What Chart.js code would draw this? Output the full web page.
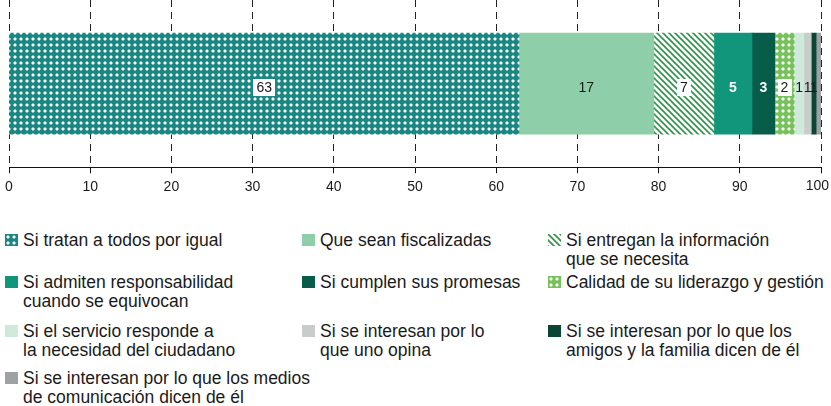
<!DOCTYPE html>
<html>
<head>
<meta charset="utf-8">
<script src="https://cdn.jsdelivr.net/npm/chart.js@4"></script>
<style>
  body { margin: 0; background: #fff; font-family: "Liberation Sans", Arial, sans-serif; }
  #wrap { position: relative; width: 831px; height: 406px; overflow: hidden; }
  #chartBox { position: absolute; left: 0; top: 0; width: 831px; height: 202px; }
  .item { position: absolute; display: flex; align-items: flex-start; font-size: 17.5px; line-height: 18.5px; color: #1a1a1a; white-space: pre; }
  .item canvas { flex: none; width: 13px; height: 12px; margin-top: 3px; margin-right: 5px; }
</style>
</head>
<body>
<div id="wrap">
  <div id="chartBox"><canvas id="barChart"></canvas></div>
  <div id="legend"></div>
</div>
<script>
// data
const category = ['Total'];
const seriesNames = [
  'Si tratan a todos por igual',
  'Que sean fiscalizadas',
  'Si entregan la información\nque se necesita',
  'Si admiten responsabilidad\ncuando se equivocan',
  'Si cumplen sus promesas',
  'Calidad de su liderazgo y gestión',
  'Si el servicio responde a\nla necesidad del ciudadano',
  'Si se interesan por lo\nque uno opina',
  'Si se interesan por lo que los\namigos y la familia dicen de él',
  'Si se interesan por lo que los medios\nde comunicación dicen de él'
];
const seriesValues = [62.8, 16.6, 7.4, 4.7, 2.8, 2.4, 1.2, 0.9, 0.6, 0.6];
const valueLabels = ['63', '17', '7', '5', '3', '2', '1', '1', '1', ''];
const xTicks = [0, 10, 20, 30, 40, 50, 60, 70, 80, 90, 100];

// look
const labelLook = ['box', 'plain', 'box', 'white', 'white', 'box', 'plain', 'plain', 'plain', 'plain'];
const tickFont = '14px "Liberation Sans", Arial, sans-serif';

function dotTile(bg) {
  const c = document.createElement('canvas');
  c.width = 6; c.height = 6;
  const g = c.getContext('2d');
  g.fillStyle = bg; g.fillRect(0, 0, 6, 6);
  g.fillStyle = 'rgba(255,255,255,0.45)'; g.fillRect(2, 1, 2, 4); g.fillRect(1, 2, 4, 2);
  g.fillStyle = '#fff'; g.fillRect(2, 2, 2, 2);
  return c;
}
function hatchTile(fg) {
  const c = document.createElement('canvas');
  c.width = 6; c.height = 6;
  const g = c.getContext('2d');
  g.fillStyle = '#fff'; g.fillRect(0, 0, 6, 6);
  g.strokeStyle = fg; g.lineWidth = 1.7;
  for (const k of [-6, 0, 6]) {
    g.beginPath(); g.moveTo(k - 1, -1); g.lineTo(k + 7, 7); g.stroke();
  }
  return c;
}

const fills = [
  dotTile('#1b8783'), '#8ecfaa', hatchTile('#2a9a48'), '#12967b', '#075c4a',
  dotTile('#78c25c'), '#cfe9da', '#c8cdcc', '#0a4536', '#9ea2a2'
];

const canvas = document.getElementById('barChart');
const mainCtx = canvas.getContext('2d');
const asFill = (f, ctx) => (f instanceof HTMLCanvasElement ? ctx.createPattern(f, 'repeat') : f);

const segmentLabels = {
  id: 'segmentLabels',
  afterDatasetsDraw(chart) {
    const ctx = chart.ctx;
    ctx.save();
    ctx.textAlign = 'center';
    ctx.textBaseline = 'middle';
    chart.data.datasets.forEach((ds, i) => {
      const txt = valueLabels[i];
      if (!txt) return;
      const el = chart.getDatasetMeta(i).data[0];
      const cx = (el.x + el.base) / 2;
      const cy = el.y + 4;
      const look = labelLook[i];
      ctx.font = (look === 'white' ? 'bold ' : '') + tickFont;
      if (look === 'box') {
        const w = ctx.measureText(txt).width + 6;
        ctx.fillStyle = '#fff';
        ctx.fillRect(Math.round(cx - w / 2), Math.round(cy - 8.5), Math.round(w), 17);
      }
      ctx.fillStyle = look === 'white' ? '#fff' : '#1a1a1a';
      ctx.fillText(txt, cx, cy + 1);
    });
    ctx.restore();
  },
  // last tick label is pulled in so it stays inside the canvas
  afterDraw(chart) {
    const x = chart.scales.x;
    const last = xTicks[xTicks.length - 1];
    const ctx = chart.ctx;
    ctx.save();
    ctx.font = tickFont;
    ctx.fillStyle = '#1a1a1a';
    ctx.textAlign = 'right';
    ctx.textBaseline = 'top';
    ctx.fillText(String(last), x.getPixelForValue(last) + 8, x.top + 12);
    ctx.restore();
  }
};

const chart = new Chart(canvas, {
  type: 'bar',
  data: {
    labels: category,
    datasets: seriesNames.map((name, i) => ({
      label: name,
      data: [seriesValues[i]],
      backgroundColor: asFill(fills[i], mainCtx),
      borderWidth: 0,
      barThickness: 101
    }))
  },
  options: {
    indexAxis: 'y',
    responsive: true,
    maintainAspectRatio: false,
    animation: false,
    layout: { padding: { left: 9, right: 10, top: 0, bottom: 0 } },
    plugins: { legend: { display: false }, tooltip: { enabled: false } },
    scales: {
      x: {
        stacked: true,
        min: 0,
        max: 100,
        afterBuildTicks: axis => { axis.ticks = xTicks.map(v => ({ value: v })); },
        afterFit: axis => { axis.paddingLeft = 0; axis.paddingRight = 0; },
        ticks: {
          color: '#1a1a1a', padding: 6,
          font: { size: 14, family: '"Liberation Sans", Arial, sans-serif' },
          callback: v => (v === xTicks[xTicks.length - 1] ? '' : v)
        },
        grid: { color: '#222', lineWidth: 1, tickLength: 6, tickColor: '#111', tickBorderDash: [] },
        border: { display: true, color: '#111', width: 1, dash: [7, 5] }
      },
      y: { stacked: true, display: false }
    }
  },
  plugins: [segmentLabels]
});

// legend built from the chart's datasets
const cols = [5, 302, 548];
const rowTops = [231, 273, 322, 369];
const legend = document.getElementById('legend');
chart.data.datasets.forEach((ds, i) => {
  const item = document.createElement('div');
  item.className = 'item';
  item.style.left = cols[i % 3] + 'px';
  item.style.top = rowTops[Math.floor(i / 3)] + 'px';
  const sw = document.createElement('canvas');
  sw.width = 13; sw.height = 12;
  const sctx = sw.getContext('2d');
  sctx.fillStyle = asFill(fills[i], sctx);
  sctx.fillRect(0, 0, 13, 12);
  const span = document.createElement('span');
  span.textContent = ds.label;
  item.appendChild(sw);
  item.appendChild(span);
  legend.appendChild(item);
});
</script>
</body>
</html>
